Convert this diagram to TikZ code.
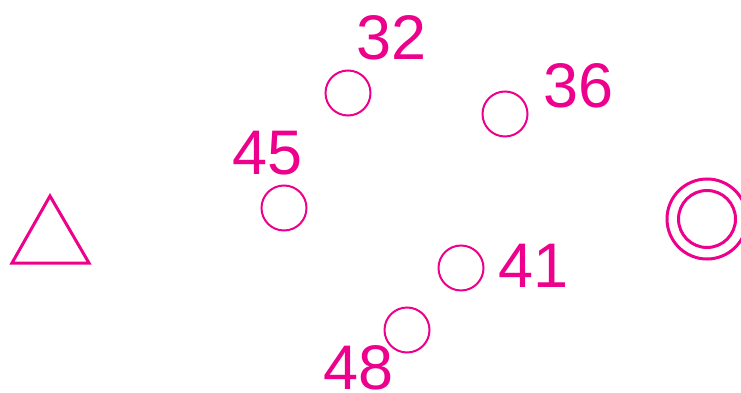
\documentclass[tikz,border=0pt]{standalone}
\usepackage{fontspec}
\setmainfont{Liberation Sans}
\usetikzlibrary{positioning}
\definecolor{mag}{HTML}{EC008C}

\begin{document}
\begin{tikzpicture}[x=1pt, y=-1pt,
  spot/.style={draw=mag, circle, line width=2pt, minimum size=45pt, inner sep=0pt},
  num/.style={text=mag, font=\fontsize{63}{63}\selectfont, inner sep=0pt}]
\useasboundingbox (0,0) rectangle (741,393);

\node[spot] (c32) at (348,93) {};
\node[spot] (c36) at (505,114) {};
\node[spot] (c45) at (284,208) {};
\node[spot] (c41) at (461,268) {};
\node[spot] (c48) at (407,330) {};

\node[num] (n32) at (392,38) {32};
\node[num] (n36) at (579,86) {36};
\node[num] (n45) at (268,153) {45};
\node[num] (n41) at (534,266) {41};
\node[num] (n48) at (359,368) {48};

% start and goal
\draw[mag, line width=3pt, line join=miter] (12,263) -- (50,196) -- (89,263) -- cycle;
\node[draw=mag, circle, line width=3pt, minimum size=80pt, inner sep=0pt] (goal) at (707,219) {};
\node[draw=mag, circle, line width=3pt, minimum size=57pt, inner sep=0pt] (goalin) at (707,219) {};
\end{tikzpicture}
\end{document}
